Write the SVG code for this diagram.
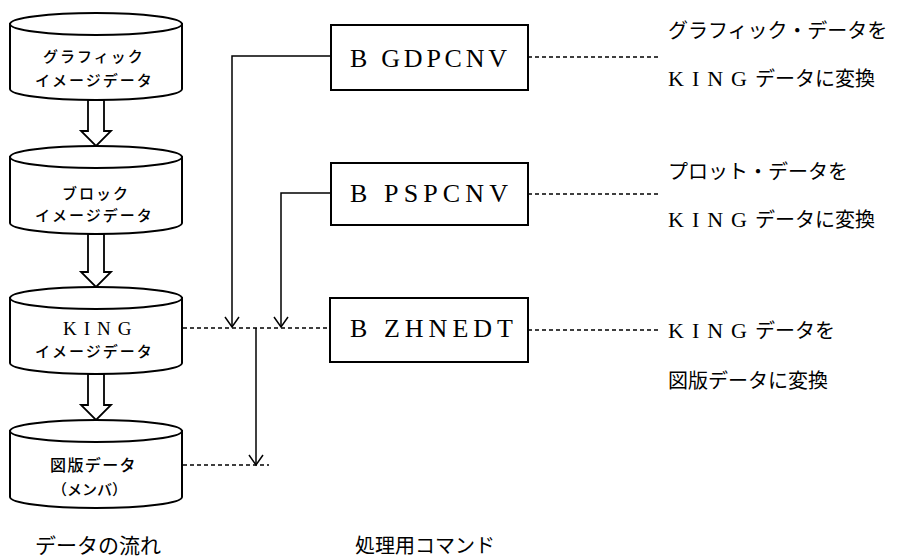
<svg xmlns="http://www.w3.org/2000/svg" width="901" height="559" viewBox="0 0 901 559">
<style>
.shape{fill:#fff;stroke:#000;stroke-width:2}
.blk{fill:#fff;stroke:#000;stroke-width:1.8;stroke-linejoin:miter}
.ln{fill:none;stroke:#000;stroke-width:1.5}
.dash{fill:none;stroke:#000;stroke-width:1.5;stroke-dasharray:4 3}
.jp{font-family:"Noto Sans CJK JP","Noto Sans",sans-serif;fill:#000}
.cyl{font-size:15px;letter-spacing:2px;font-weight:500}
.lat{font-family:"Liberation Serif",serif}
.cmd{font-family:"Liberation Serif",serif;font-size:26px;fill:#000}
.note{font-size:20px}
</style>
<defs>
<marker id="ah" viewBox="-12 -9 14 18" refX="0" refY="0" markerWidth="14" markerHeight="18" markerUnits="userSpaceOnUse" orient="auto">
<path d="M-10,-7 L0,0 L-10,7" fill="none" stroke="#000" stroke-width="1.5"/>
</marker>
</defs>

<g id="connectors">
<polygon class="blk" points="88,100 104,100 104,131 111,131 96,146 81,131 88,131"/>
<polygon class="blk" points="88,234 104,234 104,272 111,272 96,287 81,272 88,272"/>
<polygon class="blk" points="88,374 104,374 104,405 111,405 96,420 81,405 88,405"/>
<path class="ln" d="M331,56 H232 V327" marker-end="url(#ah)"/>
<path class="ln" d="M331,193 H281 V327" marker-end="url(#ah)"/>
<path class="dash" d="M183,328 H330"/>
<path class="ln" d="M256,328 V465" marker-end="url(#ah)"/>
<path class="dash" d="M183,465 H269"/>
<path class="dash" d="M528,57 H658"/>
<path class="dash" d="M528,194 H658"/>
<path class="dash" d="M528,330 H658"/>
</g>

<g id="cyl-graphic">
<path class="shape" d="M10,24 V89 A86,11 0 0 0 182,89 V24 Z"/>
<ellipse class="shape" cx="96" cy="24" rx="86" ry="11"/>
<text class="jp cyl" x="43" y="62">グラフィック</text>
<text class="jp cyl" x="35" y="86">イメージデータ</text>
</g>

<g id="cyl-block">
<path class="shape" d="M10,157 V223 A86,11 0 0 0 182,223 V157 Z"/>
<ellipse class="shape" cx="96" cy="157" rx="86" ry="11"/>
<text class="jp cyl" x="62" y="199" letter-spacing="3">ブロック</text>
<text class="jp cyl" x="35" y="221">イメージデータ</text>
</g>

<g id="cyl-king">
<path class="shape" d="M10,298 V363 A86,11 0 0 0 182,363 V298 Z"/>
<ellipse class="shape" cx="96" cy="298" rx="86" ry="11"/>
<text class="lat" x="63" y="335" font-size="19" letter-spacing="7">KING</text>
<text class="jp cyl" x="35" y="357">イメージデータ</text>
</g>

<g id="cyl-zuhan">
<path class="shape" d="M10,431 V497 A86,11 0 0 0 182,497 V431 Z"/>
<ellipse class="shape" cx="96" cy="431" rx="86" ry="11"/>
<text class="jp" x="50" y="471" font-size="16" font-weight="500" letter-spacing="1.4">図版データ</text>
<text class="jp" x="52" y="495" font-size="15" font-weight="500">（メンバ）</text>
</g>

<g id="box-gdpcnv">
<rect class="shape" x="331" y="25" width="197" height="65"/>
<text class="cmd" x="350" y="67" textLength="157" lengthAdjust="spacing">B GDPCNV</text>
</g>
<g id="box-pspcnv">
<rect class="shape" x="331" y="163" width="197" height="62"/>
<text class="cmd" x="350" y="202" textLength="158" lengthAdjust="spacing">B PSPCNV</text>
</g>
<g id="box-zhnedt">
<rect class="shape" x="330" y="298" width="198" height="64"/>
<text class="cmd" x="350" y="337" textLength="163" lengthAdjust="spacing">B ZHNEDT</text>
</g>

<g id="desc-gdpcnv">
<text class="jp note" x="668" y="38">グラフィック・データを</text>
<text class="jp note" x="668" y="86"><tspan class="lat" font-size="22" letter-spacing="8">KING</tspan>データに変換</text>
</g>
<g id="desc-pspcnv">
<text class="jp note" x="668" y="179">プロット・データを</text>
<text class="jp note" x="668" y="227"><tspan class="lat" font-size="22" letter-spacing="8">KING</tspan>データに変換</text>
</g>
<g id="desc-zhnedt">
<text class="jp note" x="668" y="338"><tspan class="lat" font-size="22" letter-spacing="8">KING</tspan>データを</text>
<text class="jp note" x="668" y="388">図版データに変換</text>
</g>

<g id="captions">
<text class="jp" x="35" y="553" font-size="21">データの流れ</text>
<text class="jp" x="355" y="553" font-size="20">処理用コマンド</text>
</g>
</svg>
